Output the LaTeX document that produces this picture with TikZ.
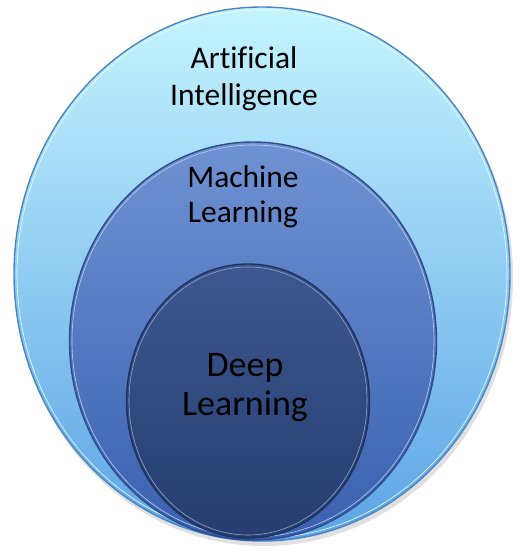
\documentclass[tikz,border=0pt]{standalone}
\usepackage{fontspec}
\setmainfont[Ligatures={NoCommon}]{Carlito}
\usetikzlibrary{shapes.geometric}
\definecolor{aitop}{HTML}{C4F4FE}
\definecolor{aibot}{HTML}{5CA4E6}
\definecolor{airim}{HTML}{4C86C0}
\definecolor{mltop}{HTML}{6E92D2}
\definecolor{mlbot}{HTML}{3A60B0}
\definecolor{mlrim}{HTML}{2E4C8C}
\definecolor{dltop}{HTML}{3D5890}
\definecolor{dlbot}{HTML}{253D70}
\definecolor{dlrim}{HTML}{1E3260}
\tikzset{
  disc/.style={ellipse, inner sep=0pt, line width=1.4pt},
  lbl/.style={font=\fontsize{31.5}{37}\selectfont, align=center, text=black, inner sep=0pt},
}
\begin{document}
\begin{tikzpicture}[x=1pt,y=-1pt]
\fill[white] (0,0) rectangle (523,554);
\useasboundingbox (0,0) rectangle (523,554);
% soft shadow
\fill[black!12] (264,278) ellipse [x radius=249, y radius=268];
\node[disc, draw=airim, top color=aitop, bottom color=aibot,
      minimum width=496pt, minimum height=534pt] (ai) at (262,274) {};
\draw[white!70!aitop, line width=0.6pt] (262,274) ellipse [x radius=245, y radius=264];
\node[disc, draw=mlrim, top color=mltop, bottom color=mlbot,
      minimum width=367pt, minimum height=398pt] (ml) at (253,341) {};
\draw[white!55!mltop, line width=0.6pt] (253,341) ellipse [x radius=181, y radius=196];
\node[disc, draw=dlrim, top color=dltop, bottom color=dlbot,
      minimum width=243pt, minimum height=274pt] (dl) at (248,401) {};
\draw[white!45!dltop, line width=0.6pt] (248,401) ellipse [x radius=119, y radius=134];
\node[lbl] (ait) at (244,79) {Artificial\\Intelligence};
\node[lbl, font=\fontsize{31.5}{35}\selectfont] (mlt) at (243,197) {Machine\\Learning};
\node[lbl, font=\fontsize{36}{39}\selectfont] (dlt) at (245,388) {Deep\\Learning};
\end{tikzpicture}
\end{document}
